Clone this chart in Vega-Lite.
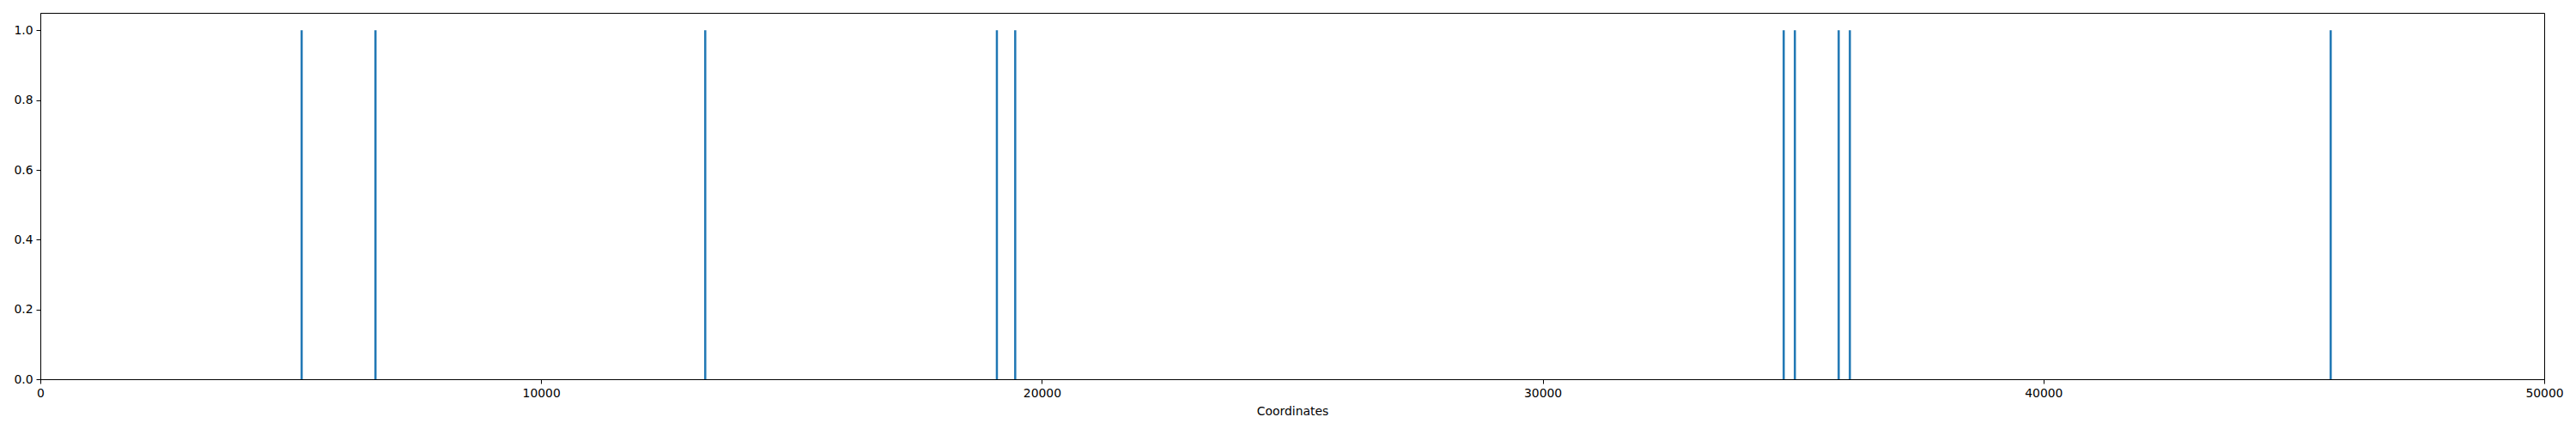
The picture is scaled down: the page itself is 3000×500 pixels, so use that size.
{
  "$schema": "https://vega.github.io/schema/vega-lite/v6.json",
  "width": 2916,
  "height": 427,
  "autosize": {"type": "none"},
  "padding": {"left": 47, "top": 15, "right": 37, "bottom": 58},
  "background": "white",
  "data": {
    "values": [
      {"coordinate": 5218, "value": 1},
      {"coordinate": 6692, "value": 1},
      {"coordinate": 13277, "value": 1},
      {"coordinate": 19101, "value": 1},
      {"coordinate": 19467, "value": 1},
      {"coordinate": 34813, "value": 1},
      {"coordinate": 35036, "value": 1},
      {"coordinate": 35911, "value": 1},
      {"coordinate": 36134, "value": 1},
      {"coordinate": 45736, "value": 1}
    ]
  },
  "mark": {"type": "rule", "color": "#1f77b4", "strokeWidth": 2.5},
  "encoding": {
    "x": {
      "field": "coordinate",
      "type": "quantitative",
      "title": "Coordinates",
      "scale": {"domain": [0, 50000], "nice": false, "zero": false},
      "axis": {"values": [0, 10000, 20000, 30000, 40000, 50000], "format": "d", "titlePadding": 8}
    },
    "y": {
      "field": "value",
      "type": "quantitative",
      "title": null,
      "scale": {"domain": [0, 1.05], "nice": false},
      "axis": {"values": [0, 0.2, 0.4, 0.6, 0.8, 1.0], "format": ".1f"}
    },
    "y2": {"datum": 0}
  },
  "config": {
    "font": "DejaVu Sans",
    "view": {"stroke": "black", "strokeWidth": 1},
    "axis": {
      "grid": false,
      "labelFlush": false,
      "labelOverlap": false,
      "domainColor": "black",
      "domainWidth": 1,
      "tickColor": "black",
      "tickSize": 5,
      "tickWidth": 1,
      "labelFont": "DejaVu Sans",
      "labelFontSize": 13.9,
      "labelColor": "black",
      "labelPadding": 4,
      "titleFont": "DejaVu Sans",
      "titleFontSize": 13.9,
      "titleFontWeight": "normal",
      "titleColor": "black"
    }
  }
}
